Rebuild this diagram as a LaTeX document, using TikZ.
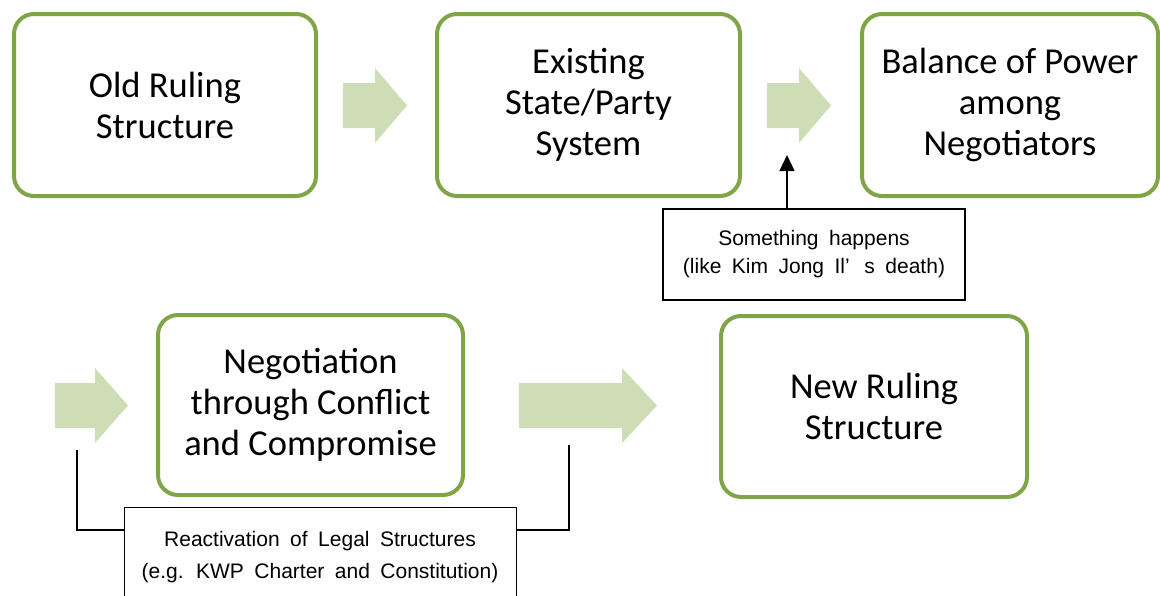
\documentclass[tikz,border=0pt]{standalone}
\usepackage{fontspec}
\setmainfont{Carlito}
\newfontfamily\smallfont{Liberation Sans}
\usetikzlibrary{arrows.meta}
\definecolor{boxgreen}{RGB}{128,165,70}
\definecolor{arrowgreen}{RGB}{205,221,181}
\newcommand\notefont{\smallfont\fontsize{21}{28}\selectfont\spaceskip=0.5em\relax}
\newcommand\legalfont{\smallfont\fontsize{21}{32}\selectfont\spaceskip=0.5em\relax}
\tikzset{
  stagebox/.style={draw=boxgreen, line width=4pt, rounded corners=20pt, fill=white,
    align=center, font=\fontsize{36.5}{41}\selectfont, inner sep=0pt},
  notebox/.style={draw=black, line width=1.1pt, fill=white, align=center,
    font=\notefont, inner sep=0pt},
  blockarrow/.style={fill=arrowgreen},
  pointer/.style={draw=black, line width=1.2pt, -{Triangle[length=16pt,width=15pt]}},
  bracket/.style={draw=black, line width=1.2pt}
}
\begin{document}
\begin{tikzpicture}[x=1pt,y=-1pt]
\useasboundingbox (0,0) rectangle (1160,595);
% stage boxes
\node[stagebox, minimum width=302pt, minimum height=182pt] (old) at (165,105) {Old Ruling\\Structure};
\node[stagebox, minimum width=303pt, minimum height=182pt] (exist) at (588.5,105) {Existing\\State/Party\\System};
\node[stagebox, minimum width=296pt, minimum height=182pt] (bal) at (1010,105) {Balance of Power\\among\\Negotiators};
\node[stagebox, minimum width=305pt, minimum height=180pt] (neg) at (310.5,405) {Negotiation\\through Conflict\\and Compromise};
\node[stagebox, minimum width=306pt, minimum height=181pt] (new) at (874,406.5) {New Ruling\\Structure};
% block arrows
\fill[blockarrow] (343,83) -- (375,83) -- (375,68) -- (407,105.5) -- (375,143) -- (375,128) -- (343,128) -- cycle;
\fill[blockarrow] (767,83) -- (799,83) -- (799,68) -- (831,105.5) -- (799,143) -- (799,128) -- (767,128) -- cycle;
\fill[blockarrow] (55,383) -- (95,383) -- (95,368) -- (128,405.5) -- (95,443) -- (95,428) -- (55,428) -- cycle;
\fill[blockarrow] (519,383) -- (622,383) -- (622,368) -- (657,405.5) -- (622,443) -- (622,428) -- (519,428) -- cycle;
% note boxes
\node[notebox, minimum width=302pt, minimum height=91pt] (event) at (814,254.5) {Something happens\\(like Kim Jong Il’\hspace{0.7em}s death)};
\node[notebox, minimum width=392pt, minimum height=96pt, anchor=north west] (legal) at (124,507) {};
\node[font=\legalfont, align=center, inner sep=0pt] (legaltext) at (320,557) {Reactivation of Legal Structures\\(e.g. KWP Charter and Constitution)};
% pointer
\coordinate (ptip) at (787,155);
\draw[pointer] (event.north -| ptip) -- (ptip);
% bracket
\coordinate (la) at (77,450);
\coordinate (ra) at (569,445);
\draw[bracket] (la) |- (legal.west |- 0,530);
\draw[bracket] (ra) |- (legal.east |- 0,530);
\end{tikzpicture}
\end{document}
